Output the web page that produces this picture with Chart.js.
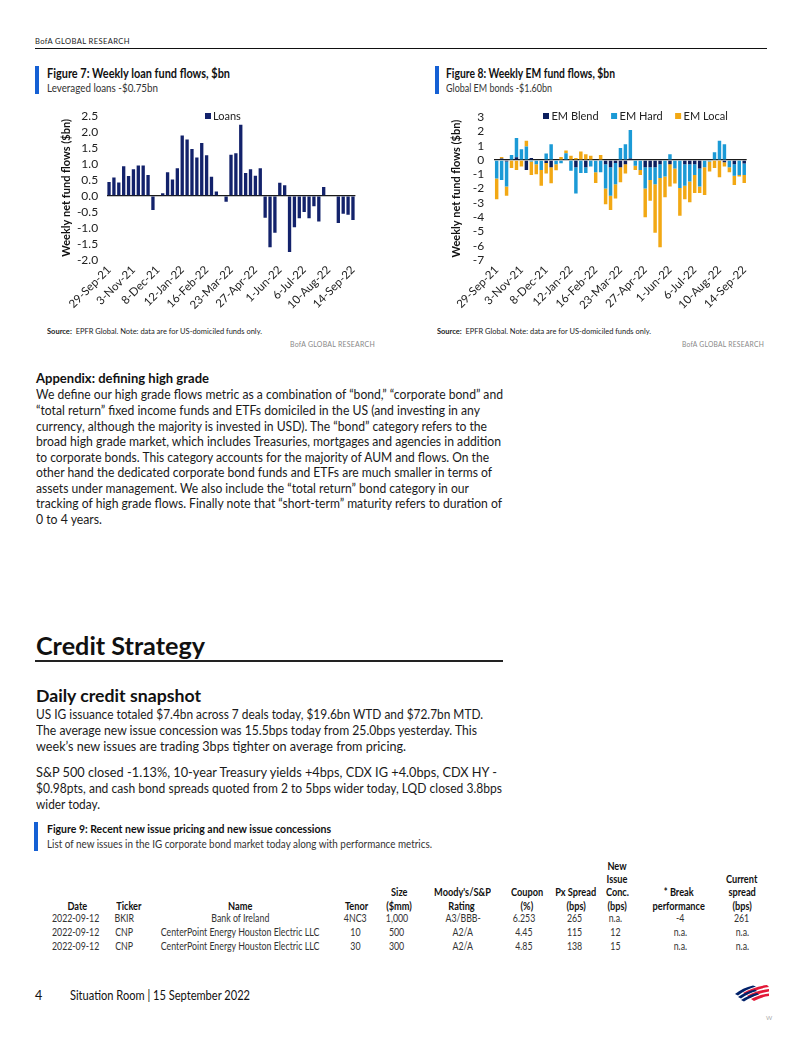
<!DOCTYPE html>
<html><head><meta charset="utf-8">
<script src="https://cdn.jsdelivr.net/npm/chart.js@4.4.0/dist/chart.umd.min.js"></script>
<style>
html,body{margin:0;padding:0;background:#fff;}
body{width:802px;height:1037px;position:relative;overflow:hidden;font-family:Lato,"Open Sans",sans-serif;color:#1a1a1a;}
.a{position:absolute;white-space:nowrap;line-height:1;transform-origin:0 50%;}
.b{font-weight:700;}
.cv{position:absolute;}
</style></head>
<body>
<div class="a" style="left:35px;top:37px;font-size:8px;letter-spacing:0.4px;color:#222" data-w="95">BofA GLOBAL RESEARCH</div>
<div style="position:absolute;left:35px;top:48px;width:732px;height:1px;background:#111"></div>

<div style="position:absolute;left:35px;top:66px;width:4px;height:28px;background:#1560d4"></div>
<div class="a b" style="left:47px;top:68px;font-size:12.5px;color:#111" data-w="183">Figure 7: Weekly loan fund flows, $bn</div>
<div class="a" style="left:47px;top:82px;font-size:12px;color:#333" data-w="111">Leveraged loans -$0.75bn</div>

<div style="position:absolute;left:435px;top:66px;width:4px;height:28px;background:#1560d4"></div>
<div class="a b" style="left:446px;top:68px;font-size:12.5px;color:#111" data-w="169">Figure 8: Weekly EM fund flows, $bn</div>
<div class="a" style="left:446px;top:82px;font-size:12px;color:#333" data-w="106">Global EM bonds -$1.60bn</div>

<div class="cv" style="left:35px;top:100px;width:370px;height:222px"><canvas id="c1"></canvas></div>
<div class="cv" style="left:437px;top:100px;width:330px;height:222px"><canvas id="c2"></canvas></div>

<div class="a" style="left:47px;top:327px;font-size:8px;color:#222" data-w="215"><b>Source:</b>&nbsp; EPFR Global. Note: data are for US-domiciled funds only.</div>
<div class="a" style="left:290px;top:340px;font-size:8px;color:#888;letter-spacing:0.3px" data-w="85">BofA GLOBAL RESEARCH</div>
<div class="a" style="left:437px;top:327px;font-size:8px;color:#222" data-w="214"><b>Source:</b>&nbsp; EPFR Global. Note: data are for US-domiciled funds only.</div>
<div class="a" style="left:682px;top:340px;font-size:8px;color:#888;letter-spacing:0.3px" data-w="82">BofA GLOBAL RESEARCH</div>

<div class="a b" style="left:36px;top:371px;font-size:14px;color:#111" data-w="173">Appendix: defining high grade</div>
<div class="a" style="left:36px;top:388px;font-size:13.5px" data-w="467">We define our high grade flows metric as a combination of “bond,” “corporate bond” and</div>
<div class="a" style="left:36px;top:404px;font-size:13.5px" data-w="444">“total return” fixed income funds and ETFs domiciled in the US (and investing in any</div>
<div class="a" style="left:36px;top:419.5px;font-size:13.5px" data-w="451">currency, although the majority is invested in USD). The “bond” category refers to the</div>
<div class="a" style="left:36px;top:435px;font-size:13.5px" data-w="465">broad high grade market, which includes Treasuries, mortgages and agencies in addition</div>
<div class="a" style="left:36px;top:450.5px;font-size:13.5px" data-w="453">to corporate bonds. This category accounts for the majority of AUM and flows. On the</div>
<div class="a" style="left:36px;top:466px;font-size:13.5px" data-w="456">other hand the dedicated corporate bond funds and ETFs are much smaller in terms of</div>
<div class="a" style="left:36px;top:481.5px;font-size:13.5px" data-w="433">assets under management. We also include the “total return” bond category in our</div>
<div class="a" style="left:36px;top:497px;font-size:13.5px" data-w="466">tracking of high grade flows. Finally note that “short-term” maturity refers to duration of</div>
<div class="a" style="left:36px;top:513px;font-size:13.5px" data-w="66">0 to 4 years.</div>

<div class="a b" style="left:36px;top:634px;font-size:24px;color:#111" data-w="169">Credit Strategy</div>
<div style="position:absolute;left:35px;top:660px;width:468px;height:1.5px;background:#222"></div>
<div class="a b" style="left:36px;top:687px;font-size:17px;color:#111" data-w="165">Daily credit snapshot</div>
<div class="a" style="left:36px;top:708px;font-size:13.5px" data-w="447">US IG issuance totaled $7.4bn across 7 deals today, $19.6bn WTD and $72.7bn MTD.</div>
<div class="a" style="left:36px;top:724px;font-size:13.5px" data-w="441">The average new issue concession was 15.5bps today from 25.0bps yesterday. This</div>
<div class="a" style="left:36px;top:740px;font-size:13.5px" data-w="370">week’s new issues are trading 3bps tighter on average from pricing.</div>
<div class="a" style="left:36px;top:766px;font-size:13.5px" data-w="461">S&amp;P 500 closed -1.13%, 10-year Treasury yields +4bps, CDX IG +4.0bps, CDX HY -</div>
<div class="a" style="left:36px;top:782px;font-size:13.5px" data-w="466">$0.98pts, and cash bond spreads quoted from 2 to 5bps wider today, LQD closed 3.8bps</div>
<div class="a" style="left:36px;top:798px;font-size:13.5px" data-w="64">wider today.</div>

<div style="position:absolute;left:34px;top:822px;width:4px;height:29px;background:#1560d4"></div>
<div class="a b" style="left:47px;top:823px;font-size:11px;color:#111" data-w="284">Figure 9: Recent new issue pricing and new issue concessions</div>
<div class="a" style="left:47px;top:838px;font-size:11px;color:#333" data-w="385">List of new issues in the IG corporate bond market today along with performance metrics.</div>

<div id="tbl"></div>

<div class="a" style="left:35px;top:990px;font-size:12.5px;color:#111">4</div>
<div class="a" style="left:70px;top:990px;font-size:12.5px;color:#111" data-w="180">Situation Room | 15 September 2022</div>
<svg style="position:absolute;left:734px;top:984px" width="36" height="20" viewBox="0 0 36 20">
  <path d="M9 9 C16 5 24 2 33 1 L35 3 C27 4 19 7 12 11 Z" fill="#e31837"/>
  <path d="M13 12 C20 8 27 6 35 5 L35 7.5 C28 8.5 22 11 16 14 Z" fill="#e31837"/>
  <path d="M17 15 C23 12 29 10 35 9.5 L35 12 C30 12.5 25 14.5 20 17 Z" fill="#e31837"/>
  <path d="M1 10 C6 6 12 3 19 1.5 L22 2.5 C15 4.5 9 7.5 4 11.5 Z" fill="#012169"/>
  <path d="M4 13 C9 9.5 15 7 21 5.5 L23 7 C17 8.5 12 11 7 14.5 Z" fill="#012169"/>
  <path d="M7 16 C12 13 17 10.5 23 9 L25 10.5 C19.5 12 15 14.5 10 17.5 Z" fill="#012169"/>
</svg>
<div class="a" style="left:766px;top:1015px;font-size:6px;color:#aaa">W</div>

<script>
// ---------- DATA ----------
const weeks = ['29-Sep-21','6-Oct-21','13-Oct-21','20-Oct-21','27-Oct-21','3-Nov-21','10-Nov-21','17-Nov-21','24-Nov-21','1-Dec-21',
 '8-Dec-21','15-Dec-21','22-Dec-21','29-Dec-21','5-Jan-22','12-Jan-22','19-Jan-22','26-Jan-22','2-Feb-22','9-Feb-22',
 '16-Feb-22','23-Feb-22','2-Mar-22','9-Mar-22','16-Mar-22','23-Mar-22','30-Mar-22','6-Apr-22','13-Apr-22','20-Apr-22',
 '27-Apr-22','4-May-22','11-May-22','18-May-22','25-May-22','1-Jun-22','8-Jun-22','15-Jun-22','22-Jun-22','29-Jun-22',
 '6-Jul-22','13-Jul-22','20-Jul-22','27-Jul-22','3-Aug-22','10-Aug-22','17-Aug-22','24-Aug-22','31-Aug-22','7-Sep-22','14-Sep-22'];

const loans = [0.43,0.57,0.42,0.92,0.62,0.83,0.95,0.95,0.65,-0.44,
 0.02,0.08,0.74,0.51,0.86,1.88,1.76,1.46,1.20,1.65,
 1.27,0.60,0.14,0.02,-0.18,1.28,1.33,2.22,0.71,0.83,
 0.63,0.86,-0.68,-1.60,-1.15,0.41,0.33,-1.75,-0.98,-0.70,
 -0.50,-0.70,-0.32,-0.80,0.28,0.00,0.00,-0.85,-0.56,-0.59,-0.75];

const emBlend = [0.00,0.10,-0.10,0.00,0.20,-0.05,-0.70,0.15,0.00,0.00,
 -0.20,-0.50,0.00,0.00,0.00,0.00,-0.50,0.00,-0.50,0.00,
 0.00,0.00,-0.30,-0.50,-0.20,-0.50,-0.30,0.10,0.00,0.00,
 -0.50,-0.50,-0.50,-0.30,0.00,-0.30,0.00,0.00,-0.30,-0.30,
 -0.30,-0.60,-0.05,0.00,0.00,0.00,-0.15,0.00,-0.30,0.00,-0.25];
const emHard = [-1.30,-1.40,-1.75,0.35,1.35,0.75,0.95,-0.10,-0.30,-0.70,
 0.45,1.10,-0.30,-0.22,0.47,-0.75,-1.85,-0.90,-0.40,-0.45,
 -0.85,-0.85,-1.70,-2.00,-1.50,0.85,1.10,2.00,-0.40,-0.70,
 -1.50,-0.90,-1.20,-0.95,-1.15,0.40,-0.60,-1.95,-1.50,-1.20,
 -0.75,-1.25,-0.45,-0.10,0.55,1.35,1.10,-0.50,-0.80,-1.05,-0.80];
const emLocal = [-1.45,0.12,-0.65,-0.55,-0.70,-0.40,0.40,-0.95,-0.70,-1.10,
 -0.75,-1.13,-0.42,0.22,0.20,0.30,0.15,0.60,0.40,0.30,
 -0.75,0.35,-1.10,-1.00,-1.00,-1.05,-0.65,0.00,-0.30,-0.35,
 -2.00,-1.45,-3.40,-4.85,-1.45,-1.55,-1.05,-1.95,-0.95,-1.45,
 -1.25,-0.45,-1.95,-0.70,-0.55,-1.20,-0.30,-0.35,-0.65,-0.10,-0.55];

const tableHead = [['Date'],['Ticker'],['Name'],['Tenor'],['Size','($mm)'],["Moody's/S&P",'Rating'],['Coupon','(%)'],
 ['Px Spread','(bps)'],['New','Issue','Conc.','(bps)'],['* Break','performance'],['Current','spread','(bps)']];
const tableRows = [
 ['2022-09-12','BKIR','Bank of Ireland','4NC3','1,000','A3/BBB-','6.253','265','n.a.','-4','261'],
 ['2022-09-12','CNP','CenterPoint Energy Houston Electric LLC','10','500','A2/A','4.45','115','12','n.a.','n.a.'],
 ['2022-09-12','CNP','CenterPoint Energy Houston Electric LLC','30','300','A2/A','4.85','138','15','n.a.','n.a.']];

// ---------- layout helpers ----------
function fitAll(){
  document.querySelectorAll('[data-w]').forEach(el=>{
    el.style.transform='none';
    const w=el.getBoundingClientRect().width;
    el.style.transform='scaleX('+(parseFloat(el.dataset.w)/w)+')';
  });
}
fitAll();

// table
(function(){
  const host=document.getElementById('tbl');
  const hx=[77,129,240,357,399,462,527,576,617,679,742];
  const dx=[76,124,240,355,397,463,524,575,615,680,742];
  const headY=[867,880,893,906.5];
  const rowY=[918.5,932.5,946.5];
  function cell(txt,x,yc,size,bold,scale){
    const el=document.createElement('div');
    el.className='a';
    el.textContent=txt;
    el.style.fontSize=size+'px';
    if(bold) el.style.fontWeight='700';
    el.style.color=bold?'#111':'#333';
    el.style.top=(yc-size*0.58)+'px';
    host.appendChild(el);
    const w=el.getBoundingClientRect().width;
    el.style.left=(x-w/2)+'px';
    el.style.transformOrigin='50% 50%';
    el.style.transform='scaleX('+scale+')';
  }
  tableHead.forEach((lines,i)=>{
    const off=headY.length-lines.length;
    lines.forEach((t,j)=>cell(t,hx[i],headY[off+j],11.5,true,0.8));
  });
  tableRows.forEach((r,k)=>r.forEach((t,i)=>cell(t,dx[i],rowY[k],11,false,0.8)));
})();

// ---------- charts ----------
Chart.defaults.font.family='Lato, "Open Sans", sans-serif';
Chart.defaults.color='#222';

const innerLegend={
  id:'innerLegend',
  afterDraw(chart,args,o){
    const ctx=chart.ctx; ctx.save();
    ctx.font=o.font; ctx.textBaseline='middle'; ctx.textAlign='left';
    let x=o.x;
    chart.data.datasets.forEach(ds=>{
      ctx.fillStyle=ds.backgroundColor;
      ctx.fillRect(x,o.y-o.box/2,o.box,o.box);
      ctx.fillStyle='#222';
      ctx.fillText(ds.label,x+o.box+o.textGap,o.y+0.5);
      x+=o.box+o.textGap+ctx.measureText(ds.label).width+o.itemGap;
    });
    ctx.restore();
  }
};

function makeOpts(cfg){
  return {
    responsive:true, maintainAspectRatio:false, animation:false,
    layout:{padding:{top:cfg.padTop,right:cfg.padRight,left:0,bottom:0}},
    plugins:{legend:{display:false},tooltip:{enabled:false},innerLegend:cfg.legend},
    scales:{
      x:{stacked:cfg.stacked,
         grid:{display:false,drawTicks:false},border:{display:false},
         ticks:{autoSkip:false,minRotation:45,maxRotation:45,padding:3,font:{size:11.5},color:'#222',
                callback:(v,i)=> i%5===0 ? weeks[i] : ''},
         afterFit:s=>{s.height=cfg.xH;}},
      y:{stacked:cfg.stacked,min:cfg.min,max:cfg.max,
         ticks:{autoSkip:false,stepSize:cfg.step,padding:cfg.tickPad,font:{size:12},color:'#222',
                callback:v=>cfg.dec?Number(v).toFixed(1):String(v)},
         grid:{drawTicks:false,color:c=>c.tick&&c.tick.value===0?'#1a1a1a':'rgba(0,0,0,0)',lineWidth:1.3},
         border:{display:false},
         title:{display:true,text:'Weekly net fund flows ($bn)',font:{size:11,weight:'bold'},color:'#111',padding:{top:cfg.titlePad,bottom:0}},
         afterFit:s=>{s.width=cfg.yW;}}
    }
  };
}

new Chart(document.getElementById('c1'),{
  type:'bar',
  data:{labels:weeks,datasets:[{label:'Loans',data:loans,backgroundColor:'#13226b',categoryPercentage:1,barPercentage:0.68}]},
  options:makeOpts({padTop:12,padRight:49.6,xH:62,yW:71.6,min:-2,max:2.5,step:0.5,dec:true,tickPad:8.5,titlePad:24.5,stacked:false,
    legend:{x:170,y:16,box:6,textGap:2,itemGap:12,font:'11px Lato'}}),
  plugins:[innerLegend]
});

new Chart(document.getElementById('c2'),{
  type:'bar',
  data:{labels:weeks,datasets:[
    {label:'EM Blend',data:emBlend,backgroundColor:'#0b1f5e',categoryPercentage:1,barPercentage:0.7},
    {label:'EM Hard',data:emHard,backgroundColor:'#1b9ad6',categoryPercentage:1,barPercentage:0.7},
    {label:'EM Local',data:emLocal,backgroundColor:'#f2a814',categoryPercentage:1,barPercentage:0.7}]},
  options:makeOpts({padTop:11.7,padRight:20.3,xH:62,yW:57.2,min:-7,max:3,step:1,dec:false,tickPad:10,titlePad:13.3,stacked:true,
    legend:{x:106,y:16,box:6,textGap:2.5,itemGap:12.5,font:'11px Lato'}}),
  plugins:[innerLegend]
});
</script>
</body></html>
